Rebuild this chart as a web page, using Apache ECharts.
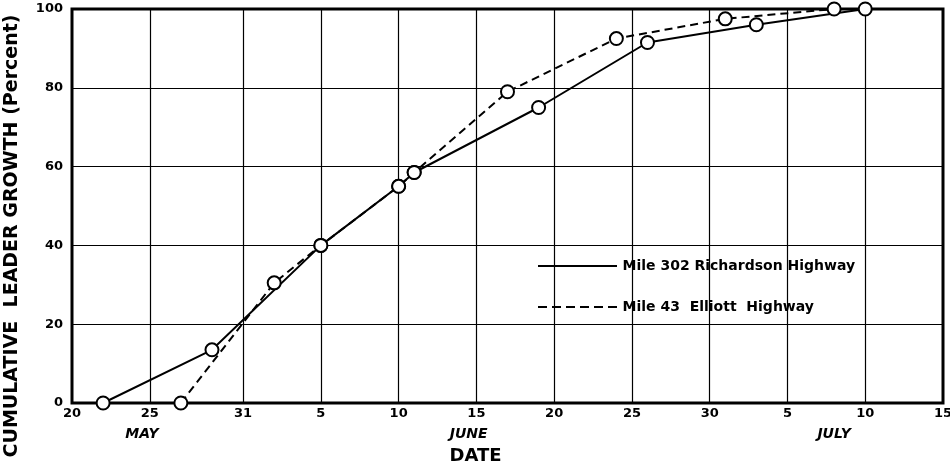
<!DOCTYPE html>
<html>
<head>
<meta charset="utf-8">
<script src="https://cdn.jsdelivr.net/npm/echarts@6/dist/echarts.min.js"></script>
<style>
html,body{margin:0;padding:0;background:#fff;}
#chart{width:950px;height:466px;}
</style>
</head>
<body>
<div id="chart"></div>
<script>
// Days counted from May 20 (0 = May 20, 11 = May 31, 41 = June 30, 56 = July 15)
const tickDays = [0, 5, 11, 16, 21, 26, 31, 36, 41, 46, 51, 56];
const tickLabels = ['20', '25', '31', '5', '10', '15', '20', '25', '30', '5', '10', '15'];
const monthDays = [4.5, 25.5, 49];
const monthLabels = ['MAY', 'JUNE', 'JULY'];
const yTicks = [0, 20, 40, 60, 80, 100];

const richardsonName = 'Mile 302 Richardson Highway';
const richardsonDays = [2, 9, 16, 21, 22, 30, 37, 44, 51];
const richardsonPct = [0, 13.5, 40, 55, 58.5, 75, 91.5, 96, 100];

const elliottName = 'Mile 43  Elliott  Highway';
const elliottDays = [7, 13, 16, 21, 22, 28, 35, 42, 49];
const elliottPct = [0, 30.5, 40, 55, 58.5, 79, 92.5, 97.5, 100];

const FONT = 'DejaVu Sans';
const chart = echarts.init(document.getElementById('chart'));

function pairs(xs, ys) { return xs.map((x, i) => [x, ys[i]]); }

const dashPath = 'path://M0,0h9v2h-9z M14,0h9v2h-9z M28,0h9v2h-9z M42,0h9v2h-9z M56,0h9v2h-9z M70,0h9v2h-9z';
const solidPath = 'path://M0,0h79v2h-79z';

chart.setOption({
  animation: false,
  backgroundColor: '#fff',
  grid: { left: 72, right: 7, top: 9, bottom: 63, containLabel: false, outerBoundsMode: 'none',
          show: true, borderColor: '#000', borderWidth: 3, z: 3 },
  legend: {
    orient: 'vertical', left: 532, top: 248,
    padding: [11, 4, 3, 6],
    itemGap: 27, itemWidth: 80, itemHeight: 2,
    backgroundColor: '#fff',
    textStyle: { fontFamily: FONT, fontWeight: 'bold', fontSize: 14, color: '#000', lineHeight: 14 },
    itemStyle: { color: '#000', borderWidth: 0 },
    selectedMode: false,
    data: [
      { name: richardsonName, icon: solidPath },
      { name: elliottName, icon: dashPath }
    ]
  },
  xAxis: [{
    type: 'value', min: 0, max: 56, interval: 1,
    axisLine: { show: false }, axisTick: { show: false }, splitLine: { show: false },
    axisLabel: {
      margin: 4, fontFamily: FONT, fontWeight: 'bold', fontSize: 13, color: '#000',
      showMinLabel: true, showMaxLabel: true,
      formatter: v => { const i = tickDays.indexOf(v); return i >= 0 ? tickLabels[i] : ''; }
    },
    name: 'DATE', nameLocation: 'middle', nameGap: 44,
    nameTextStyle: { fontFamily: FONT, fontWeight: 'bold', fontSize: 18, color: '#000', padding: [0, 64, 0, 0] }
  }, {
    type: 'value', min: 0, max: 56, interval: 0.5, position: 'bottom', offset: 16,
    axisLine: { show: false }, axisTick: { show: false }, splitLine: { show: false },
    axisLabel: {
      margin: 8, fontFamily: FONT, fontWeight: 'bold', fontStyle: 'italic', fontSize: 14, color: '#000',
      showMinLabel: true, showMaxLabel: true,
      formatter: v => { const i = monthDays.indexOf(v); return i >= 0 ? monthLabels[i] : ''; }
    }
  }],
  yAxis: {
    type: 'value', min: 0, max: 100, interval: 20,
    axisLine: { show: false }, axisTick: { show: false },
    splitLine: { lineStyle: { color: '#000', width: 1.2 } },
    axisLabel: { margin: 9, fontFamily: FONT, fontWeight: 'bold', fontSize: 13, color: '#000' },
    name: 'CUMULATIVE  LEADER GROWTH (Percent)', nameLocation: 'middle', nameGap: 50,
    nameTextStyle: { fontFamily: FONT, fontWeight: 'bold', fontSize: 19, color: '#000', padding: [0, 60, 0, 0] }
  },
  series: [
    {
      type: 'line', name: '_grid', data: [], silent: true, z: 1,
      markLine: {
        silent: true, symbol: 'none', label: { show: false },
        lineStyle: { color: '#000', width: 1.2, type: 'solid' },
        data: tickDays.slice(1, -1).map(d => ({ xAxis: d }))
      }
    },
    {
      type: 'line', name: richardsonName, data: pairs(richardsonDays, richardsonPct), z: 5,
      symbol: 'circle', symbolSize: 13,
      lineStyle: { color: '#000', width: 2 },
      itemStyle: { color: '#fff', borderColor: '#000', borderWidth: 2 }
    },
    {
      type: 'line', name: elliottName, data: pairs(elliottDays, elliottPct), z: 5,
      symbol: 'circle', symbolSize: 13,
      lineStyle: { color: '#000', width: 2, type: [8, 5] },
      itemStyle: { color: '#fff', borderColor: '#000', borderWidth: 2 }
    }
  ]
});
</script>
</body>
</html>
